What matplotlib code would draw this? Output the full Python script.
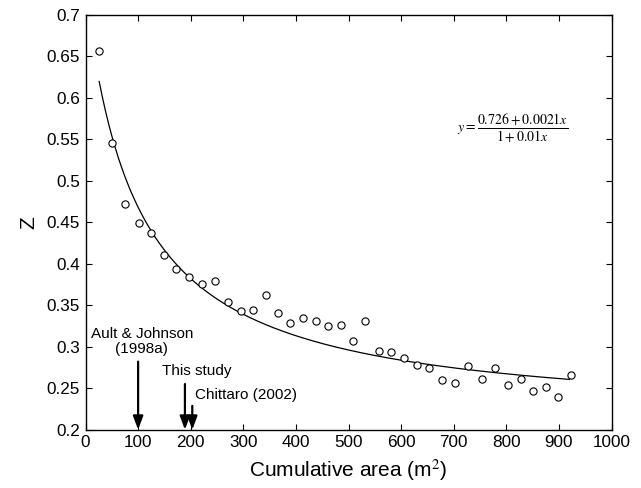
import matplotlib
matplotlib.use("Agg")
import matplotlib.pyplot as plt
import numpy as np

plt.rcParams['font.family'] = ['Liberation Sans', 'DejaVu Sans']
plt.rcParams['mathtext.fontset'] = 'stix'

area = [26, 51, 76, 101, 124.5, 149, 172.6, 197, 222, 246.8, 271.5, 295, 318, 342.6,
        366.6, 389, 413.5, 437.6, 460.5, 485, 508, 531.4, 558, 581, 605.5, 629.6,
        653.6, 677.8, 702, 727.8, 753.8, 778, 803.8, 827, 851, 875.5, 899, 923]
z = [0.656, 0.545, 0.4716, 0.449, 0.437, 0.410, 0.3936, 0.3836, 0.375, 0.379,
     0.354, 0.3434, 0.344, 0.362, 0.3406, 0.329, 0.335, 0.3313, 0.3246, 0.326,
     0.3065, 0.3313, 0.2952, 0.2936, 0.2868, 0.2783, 0.2743, 0.2603, 0.2563,
     0.2771, 0.2614, 0.2743, 0.2538, 0.2614, 0.247, 0.2518, 0.2398, 0.266]

# fitted model y = (a + b x) / (1 + c x)
fit_a, fit_b, fit_c = 0.726, 0.0021, 0.01
fit_range = [26, 920]

arrow_labels = ["Ault & Johnson\n(1998a)", "This study", "Chittaro (2002)"]
arrow_x = [100, 189, 203]
arrow_top = [0.282, 0.255, 0.2287]

fig = plt.figure(figsize=(6.41, 4.88), dpi=100)
ax = fig.add_axes([0.1334, 0.1195, 0.954 - 0.1334, 0.9699 - 0.1195])

xf = np.linspace(fit_range[0], fit_range[1], 300)
yf = (fit_a + fit_b * xf) / (1 + fit_c * xf)
ax.plot(xf, yf, color='black', lw=0.9)
ax.plot(area, z, 'o', mfc='white', mec='black', ms=5.2, mew=0.8)

for xa, yt in zip(arrow_x, arrow_top):
    ax.annotate('', xy=(xa, 0.2), xytext=(xa, yt),
                arrowprops=dict(arrowstyle='-|>,head_length=0.8,head_width=0.3',
                                color='black', lw=1.6, shrinkA=0, shrinkB=0))

ax.text(107, 0.3065, arrow_labels[0], ha='center', va='center', fontsize=11,
        linespacing=1.1)
ax.text(211, 0.2705, arrow_labels[1], ha='center', va='center', fontsize=11)
ax.text(208, 0.2415, arrow_labels[2], ha='left', va='center', fontsize=11)

ax.text(811, 0.5635, r'$y=\dfrac{0.726+0.0021x}{1+0.01x}$', ha='center', va='center',
        fontsize=10)

ax.set_xlim(0, 1000)
ax.set_ylim(0.2, 0.7)
ax.set_xticks(np.arange(0, 1001, 100))
ax.set_yticks(np.arange(0.2, 0.701, 0.05))
ax.set_yticklabels(['0.2', '0.25', '0.3', '0.35', '0.4', '0.45', '0.5', '0.55',
                    '0.6', '0.65', '0.7'])
ax.tick_params(direction='in', length=4, width=0.8, labelsize=12.3,
               top=True, right=True, pad=4)
for s in ax.spines.values():
    s.set_linewidth(1.0)

ax.set_xlabel('Cumulative area (m$^2$)', fontsize=15, labelpad=5)
ax.set_ylabel('Z', fontsize=15, labelpad=6)

fig.savefig('out.png', dpi=100)
